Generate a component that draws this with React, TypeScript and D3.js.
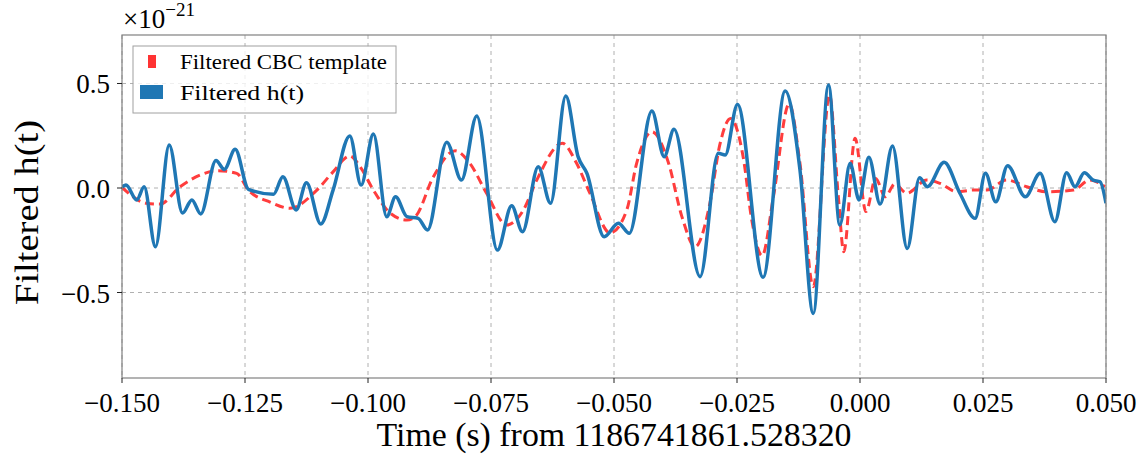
import React from "react";
import * as d3 from "d3";

// Time (s) from 1186741861.528320, strain in units of 1e-21
const hT: number[] = [-0.15, -0.1492, -0.147, -0.1455, -0.1432, -0.1404, -0.1377, -0.1358, -0.134, -0.1309, -0.1292, -0.127, -0.1243, -0.1192, -0.1173, -0.1146, -0.1125, -0.1096, -0.1071, -0.1037, -0.1014, -0.0989, -0.0962, -0.0944, -0.0921, -0.0898, -0.0879, -0.084, -0.081, -0.0779, -0.0737, -0.0708, -0.0686, -0.0654, -0.0629, -0.0598, -0.0573, -0.0555, -0.052, -0.0491, -0.0469, -0.0423, -0.0398, -0.0378, -0.0325, -0.0288, -0.0274, -0.0249, -0.0197, -0.0152, -0.0122, -0.0095, -0.0064, -0.0041, -0.002, -0.0002, 0.0018, 0.0041, 0.0066, 0.0096, 0.0121, 0.0137, 0.0171, 0.0203, 0.0234, 0.0255, 0.0276, 0.03, 0.0336, 0.0366, 0.0396, 0.042, 0.0437, 0.0456, 0.0474, 0.0488, 0.05];
const hV: number[] = [0.005, 0.014, -0.057, 0.006, -0.281, 0.206, -0.12, -0.057, -0.124, 0.131, 0.089, 0.185, -0.006, -0.03, 0.054, -0.105, 0.025, -0.172, -0.01, 0.249, 0.014, 0.258, -0.137, -0.042, -0.137, -0.145, -0.201, 0.219, 0.038, 0.344, -0.297, -0.085, -0.209, 0.102, -0.073, 0.44, 0.15, 0.07, -0.233, -0.169, -0.217, 0.368, 0.15, 0.281, -0.424, 0.166, 0.158, 0.4, -0.427, 0.464, 0.086, -0.6, 0.493, -0.177, 0.118, -0.057, 0.147, -0.077, 0.201, -0.289, 0.049, 0.006, 0.123, -0.025, -0.145, 0.07, -0.066, 0.107, -0.042, 0.07, -0.161, 0.073, 0.006, 0.073, 0.038, 0.03, -0.073];

const cbcT: number[] = [-0.15, -0.145, -0.1423, -0.1382, -0.1341, -0.1305, -0.1267, -0.1243, -0.1199, -0.1159, -0.1104, -0.1071, -0.1037, -0.1016, -0.0989, -0.0955, -0.0921, -0.0904, -0.0867, -0.0823, -0.0793, -0.0759, -0.0718, -0.0684, -0.0657, -0.0605, -0.0576, -0.0549, -0.0508, -0.0474, -0.0454, -0.0423, -0.039, -0.0362, -0.0335, -0.0305, -0.0285, -0.0263, -0.0237, -0.022, -0.0199, -0.0176, -0.0144, -0.0122, -0.0095, -0.0062, -0.0044, -0.0033, -0.001, 0.0012, 0.0032, 0.0051, 0.0071, 0.0095, 0.0136, 0.0163, 0.0197, 0.023, 0.0258, 0.0298, 0.0339, 0.0379, 0.0434, 0.0467, 0.0498];
const cbcV: number[] = [0.003, -0.073, -0.077, 0.006, 0.062, 0.083, 0.07, -0.01, -0.067, -0.097, -0.01, 0.077, 0.153, 0.102, -0.01, -0.12, -0.153, -0.137, 0.054, 0.178, 0.118, -0.025, -0.177, -0.105, 0.038, 0.214, 0.118, -0.025, -0.215, -0.105, 0.118, 0.269, 0.126, -0.137, -0.281, -0.073, 0.206, 0.333, 0.142, -0.153, -0.324, -0.042, 0.402, 0.118, -0.472, 0.445, -0.042, -0.305, 0.238, -0.113, 0.046, -0.042, 0.019, -0.025, 0.038, 0.022, -0.018, -0.01, -0.01, 0.038, 0.006, -0.018, -0.01, 0.038, 0.006];

const xTicks: number[] = [-0.15, -0.125, -0.1, -0.075, -0.05, -0.025, 0, 0.025, 0.05];
const yTicks: number[] = [-0.5, 0, 0.5];
const legendLabels: string[] = ["Filtered CBC template", "Filtered h(t)"];

const W = 1143, H = 455;
const M = { left: 122, right: 1106, top: 35, bottom: 378 };
const FONT = "'Liberation Serif', 'DejaVu Serif', serif";
const minus = (s: string) => s.replace("-", "\u2212");

export default function App() {
  const x = d3.scaleLinear().domain([-0.15, 0.05]).range([M.left, M.right]);
  const y = d3.scaleLinear().domain([-0.909, 0.732]).range([M.bottom, M.top]);
  const line = d3
    .line<[number, number]>()
    .x((d) => x(d[0]))
    .y((d) => y(d[1]))
    .curve(d3.curveMonotoneX);
  const hData = hT.map((t, i) => [t, hV[i]] as [number, number]);
  const cData = cbcT.map((t, i) => [t, cbcV[i]] as [number, number]);
  const grid = "#b0b0b0";
  return (
    <svg width={W} height={H} style={{ position: "absolute", left: 0, top: 0, background: "#fff" }} fontFamily={FONT}>
      <defs>
        <clipPath id="plot">
          <rect x={M.left} y={M.top} width={M.right - M.left} height={M.bottom - M.top} />
        </clipPath>
      </defs>
      {xTicks.map((t) => (
        <line key={"gx" + t} x1={x(t)} x2={x(t)} y1={M.top} y2={M.bottom} stroke={grid} strokeWidth={1} strokeDasharray="4,4" />
      ))}
      {yTicks.map((t) => (
        <line key={"gy" + t} x1={M.left} x2={M.right} y1={y(t)} y2={y(t)} stroke={grid} strokeWidth={1} strokeDasharray="4,4" />
      ))}
      <g clipPath="url(#plot)">
        <path d={line(cData) || ""} fill="none" stroke="#ff3333" strokeOpacity={0.95} strokeWidth={3} strokeDasharray="9,5" />
        <path d={line(hData) || ""} fill="none" stroke="#1f77b4" strokeWidth={3.5} strokeLinejoin="round" />
      </g>
      <rect x={M.left} y={M.top} width={M.right - M.left} height={M.bottom - M.top} fill="none" stroke="#808080" strokeWidth={1.2} />
      {xTicks.map((t) => (
        <g key={"xt" + t}>
          <line x1={x(t)} x2={x(t)} y1={M.bottom} y2={M.bottom + 5} stroke="#222" strokeWidth={1} />
          <text x={x(t)} y={M.bottom + 34} textAnchor="middle" fontSize={27} fill="#000">
            {minus(t.toFixed(3))}
          </text>
        </g>
      ))}
      {yTicks.map((t) => (
        <g key={"yt" + t}>
          <line x1={M.left - 5} x2={M.left} y1={y(t)} y2={y(t)} stroke="#222" strokeWidth={1} />
          <text x={M.left - 12} y={y(t) + 10} textAnchor="end" fontSize={27} fill="#000">
            {minus(t.toFixed(1))}
          </text>
        </g>
      ))}
      <text x={(M.left + M.right) / 2} y={446} textAnchor="middle" fontSize={34} fill="#000" textLength={475} lengthAdjust="spacingAndGlyphs">
        Time (s) from 1186741861.528320
      </text>
      <text transform={`translate(38,${(M.top + M.bottom) / 2 + 6}) rotate(-90)`} textAnchor="middle" fontSize={34} fill="#000" textLength={185} lengthAdjust="spacingAndGlyphs">
        Filtered h(t)
      </text>
      <text x={123} y={28} fontSize={27} fill="#000">
        ×10
        <tspan dy={-12} fontSize={19}>−21</tspan>
      </text>
      <rect x={133} y={46} width={263} height={67} fill="#fff" fillOpacity={0.8} stroke="#a0a0a0" strokeWidth={1} />
      <rect x={148} y={55} width={8} height={13} fill="#ff3333" />
      <rect x={140} y={85} width={23} height={14} fill="#1f77b4" />
      <text x={180} y={69} fontSize={21} fill="#000" textLength={207} lengthAdjust="spacingAndGlyphs">{legendLabels[0]}</text>
      <text x={180} y={100} fontSize={21} fill="#000" textLength={124} lengthAdjust="spacingAndGlyphs">{legendLabels[1]}</text>
    </svg>
  );
}
